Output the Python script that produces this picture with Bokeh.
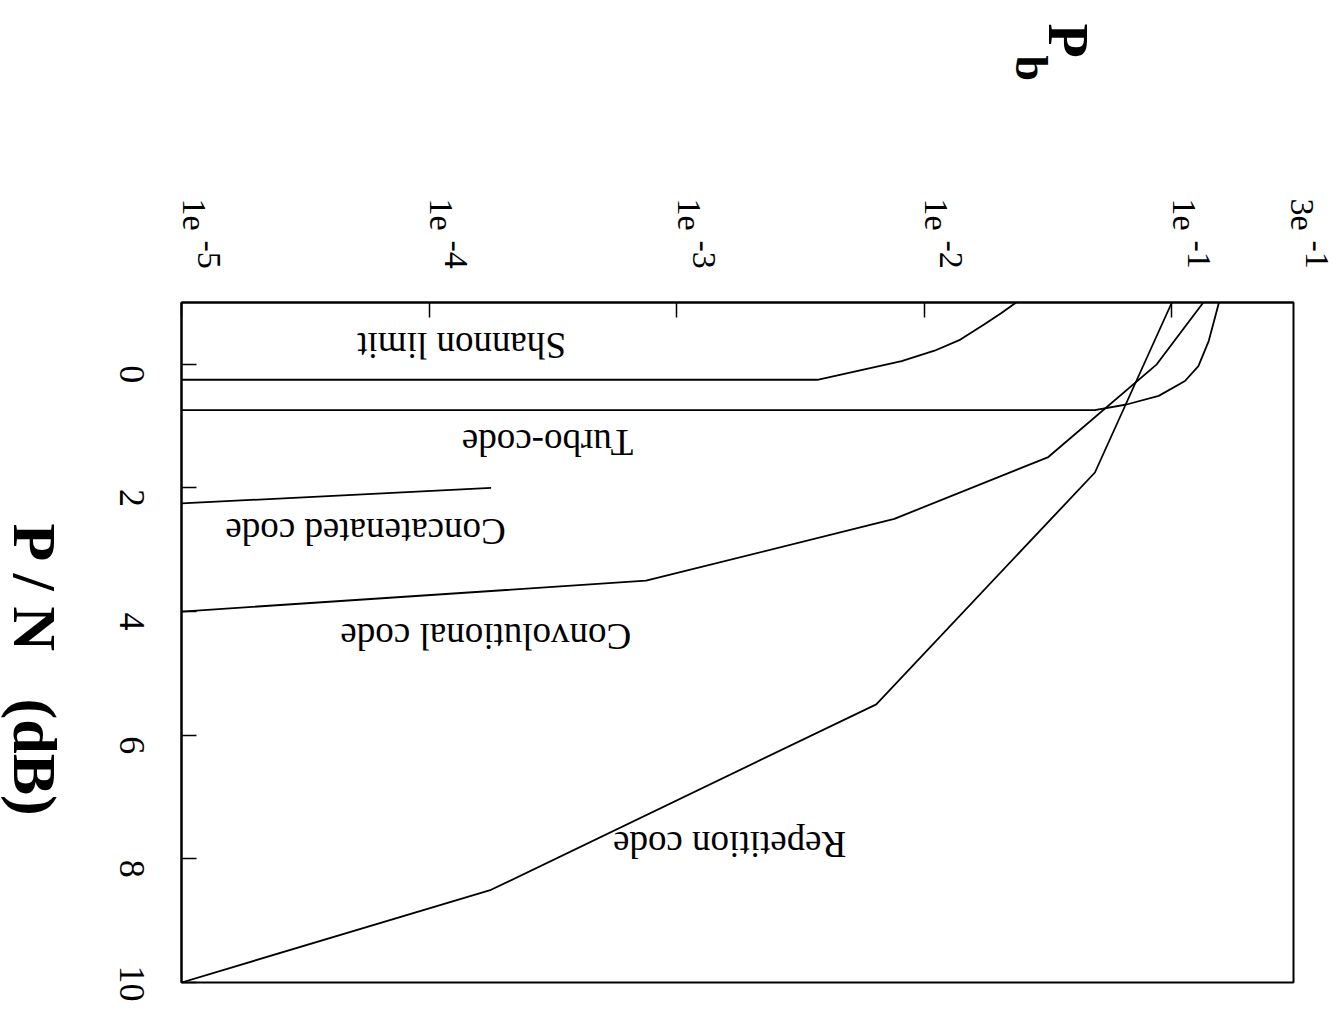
import math
from bokeh.plotting import figure
from bokeh.models import Range1d, FixedTicker, Label
from bokeh.core.properties import value
from bokeh.embed import file_html
from bokeh.resources import INLINE

# Bit error probability vs signal-to-noise ratio for several coding schemes
shannon_snr = [0.25, 0.25, -0.05, -0.22, -0.40, -0.65, -0.83, -1.0]
shannon_pb = [1e-5, 3.7e-3, 8.1e-3, 1.1e-2, 1.4e-2, 1.75e-2, 2.05e-2, 2.35e-2]

turbo_snr = [0.74, 0.74, 0.65, 0.51, 0.27, 0.03, -0.38, -1.0]
turbo_pb = [1e-5, 4.88e-2, 6.56e-2, 8.85e-2, 0.113, 0.128, 0.141, 0.155]

concat_snr = [2.25, 2.0]
concat_pb = [1e-5, 1.78e-4]

conv_snr = [-1.0, 0.0, 1.5, 2.5, 3.5, 4.0]
conv_pb = [0.134, 0.0869, 0.0317, 7.57e-3, 7.52e-4, 1e-5]

rep_snr = [-1.0, 1.75, 5.5, 8.5, 10.0]
rep_pb = [0.1, 0.0489, 6.40e-3, 1.78e-4, 1e-5]

pb_ticks = [1e-5, 1e-4, 1e-3, 1e-2, 1e-1, 3e-1]
pb_tick_mant = ["1e", "1e", "1e", "1e", "1e", "3e"]
pb_tick_exp = ["-5", "-4", "-3", "-2", "-1", "-1"]
snr_ticks = [0, 2, 4, 6, 8, 10]
snr_tick_labels = ["0", "2", "4", "6", "8", "10"]

curve_labels = ["Shannon limit", "Turbo-code", "Concatenated code",
                "Convolutional code", "Repetition code"]
curve_label_pb = [3.57e-4, 6.67e-4, 2.04e-4, 6.55e-4, 4.84e-3]
curve_label_snr = [-0.30, 1.27, 2.71, 4.41, 7.76]

SERIF = "Liberation Serif"
PB_MIN, PB_MAX = 1e-5, 0.31
SNR_TOP, SNR_BOTTOM = -1.0, 10.0
PX_PER_DB = 680 / (SNR_BOTTOM - SNR_TOP)
CW = -math.pi / 2  # clockwise quarter turn

p = figure(width=1342, height=1012, output_backend="svg", toolbar_location=None,
           x_axis_type="log", x_axis_location="above",
           x_range=Range1d(PB_MIN, PB_MAX),
           y_range=Range1d(SNR_BOTTOM, SNR_TOP),
           min_border_left=181, min_border_right=49,
           min_border_top=302, min_border_bottom=30)
p.background_fill_color = "white"
p.border_fill_color = "white"
p.outline_line_color = "black"
p.outline_line_width = 2
p.xgrid.visible = False
p.ygrid.visible = False

for ax, ticks in ((p.xaxis[0], pb_ticks[:-1]), (p.yaxis[0], snr_ticks)):
    ax.ticker = FixedTicker(ticks=ticks)
    ax.axis_line_color = "black"
    ax.axis_line_width = 2
    ax.major_tick_line_color = "black"
    ax.major_tick_line_width = 1.5
    ax.major_tick_in = 15
    ax.major_tick_out = 0
    ax.minor_tick_line_color = None
    # tick texts are drawn separately below
    ax.major_label_overrides = {t: " " for t in ticks}

line_kw = dict(line_color="black", line_width=1.8)
p.line(shannon_pb, shannon_snr, **line_kw)
p.line(turbo_pb, turbo_snr, **line_kw)
p.line(concat_pb, concat_snr, **line_kw)
p.line(conv_pb, conv_snr, **line_kw)
p.line(rep_pb, rep_snr, **line_kw)

# curve names, drawn upside down
for txt, xv, yv in zip(curve_labels, curve_label_pb, curve_label_snr):
    p.add_layout(Label(x=xv, y=yv, text=txt, angle=math.pi,
                       text_font=SERIF, text_font_size="37px",
                       text_align="left", text_baseline="alphabetic",
                       text_color="black"))

txt_kw = dict(text_font=value(SERIF), text_color="black", level="overlay",
              text_baseline="alphabetic", angle=CW)

# top tick labels: mantissa plus raised exponent, rotated clockwise
top_start = SNR_TOP - (302 - 198) / PX_PER_DB
exp_start = SNR_TOP - (302 - 240) / PX_PER_DB
p.text(x=pb_ticks, y=[top_start] * len(pb_ticks), text=pb_tick_mant,
       x_offset=12, text_font_size="34px", text_align="left", **txt_kw)
p.text(x=pb_ticks, y=[exp_start] * len(pb_ticks), text=pb_tick_exp,
       x_offset=27, text_font_size="34px", text_align="left", **txt_kw)

# left tick labels, rotated clockwise
p.text(x=[PB_MIN] * len(snr_ticks), y=[t + 19 / PX_PER_DB for t in snr_ticks],
       text=snr_tick_labels, x_offset=-50, text_font_size="36px",
       text_align="right", **txt_kw)

# axis titles
title_kw = dict(text_font_style="bold", text_align="left", **txt_kw)
p.text(x=[PB_MIN], y=[SNR_TOP + (523 - 302) / PX_PER_DB], text=["P / N"],
       x_offset=-147, text_font_size="62px", **title_kw)
p.text(x=[PB_MIN], y=[SNR_TOP + (698 - 302) / PX_PER_DB], text=["(dB)"],
       x_offset=-147, text_font_size="62px", **title_kw)
p.text(x=[1e-1], y=[SNR_TOP - (302 - 23) / PX_PER_DB], text=["P"],
       x_offset=-104, text_font_size="56px", **title_kw)
p.text(x=[1e-1], y=[SNR_TOP - (302 - 55) / PX_PER_DB], text=["b"],
       x_offset=-140, text_font_size="46px", **title_kw)

open("out.html", "w").write(file_html(p, INLINE))
